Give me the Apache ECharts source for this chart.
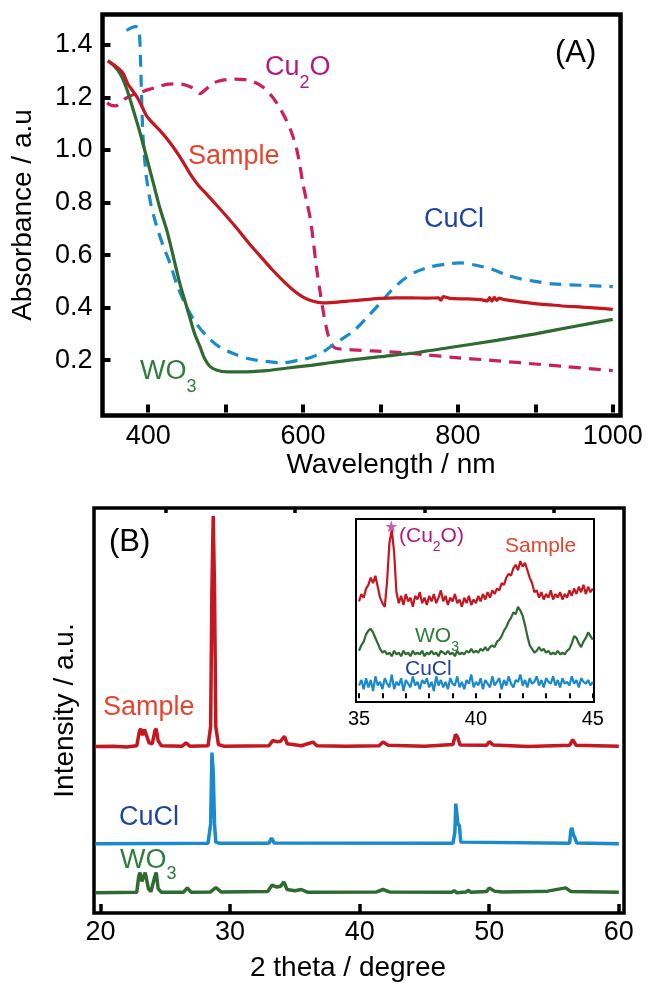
<!DOCTYPE html>
<html><head><meta charset="utf-8">
<script src="https://cdn.jsdelivr.net/npm/echarts@6/dist/echarts.min.js"></script>
<style>html,body{margin:0;padding:0;background:#fff}#c{width:652px;height:985px}</style>
</head><body><div id="c"></div>
<script>
const FONT = '"Liberation Sans", Arial, Helvetica, sans-serif';

// ---------- Panel A : absorbance (wavelength nm, absorbance a.u.) ----------
const absSample = [[348,1.34],[355,1.325],[362,1.31],[368,1.29],[374,1.25],[380,1.225],[386,1.20],[392,1.165],[398,1.13],[405,1.105],[415,1.075],[425,1.04],[435,1.0],[445,0.955],[455,0.905],[465,0.865],[476,0.83],[490,0.785],[502,0.745],[515,0.70],[530,0.645],[545,0.595],[560,0.545],[575,0.50],[590,0.46],[600,0.44],[612,0.425],[625,0.418],[640,0.42],[660,0.425],[680,0.43],[700,0.435],[720,0.437],[740,0.437],[760,0.436],[775,0.437],[778,0.428],[781,0.442],[790,0.435],[810,0.433],[830,0.43],[838,0.425],[841,0.438],[844,0.424],[847,0.439],[850,0.427],[853,0.436],[860,0.43],[880,0.422],[900,0.415],[920,0.41],[940,0.405],[960,0.402],[980,0.398],[1000,0.393]];
const absWO3 = [[348,1.34],[356,1.32],[364,1.29],[372,1.235],[381,1.15],[390,1.06],[399,0.96],[407,0.87],[415,0.78],[424,0.695],[432,0.60],[441,0.49],[448,0.42],[454,0.36],[460,0.30],[467,0.25],[473,0.205],[480,0.175],[490,0.16],[502,0.155],[520,0.155],[553,0.16],[580,0.17],[610,0.18],[635,0.19],[660,0.20],[700,0.213],[750,0.23],[794,0.25],[850,0.275],[900,0.30],[950,0.328],[1000,0.355]];
const absCuCl = [[372,1.455],[378,1.465],[384,1.47],[388,1.46],[390,1.35],[391.5,1.2],[393,1.07],[395,0.98],[398,0.89],[403,0.80],[408,0.74],[413,0.69],[420,0.63],[428,0.57],[438,0.48],[450,0.40],[462,0.34],[476,0.29],[492,0.25],[510,0.225],[530,0.205],[552,0.195],[574,0.19],[595,0.20],[610,0.21],[618,0.22],[628,0.235],[635,0.25],[650,0.28],[665,0.31],[682,0.36],[699,0.415],[714,0.465],[729,0.505],[745,0.535],[764,0.555],[783,0.565],[803,0.57],[825,0.56],[845,0.545],[862,0.525],[880,0.51],[900,0.50],[923,0.49],[960,0.485],[1000,0.48]];
const absCu2O = [[347,1.18],[352,1.17],[358,1.168],[364,1.18],[370,1.195],[380,1.21],[390,1.22],[400,1.23],[412,1.24],[424,1.25],[435,1.252],[445,1.25],[455,1.24],[462,1.225],[467,1.215],[472,1.225],[478,1.24],[484,1.255],[495,1.265],[510,1.27],[525,1.268],[536,1.26],[548,1.24],[561,1.20],[570,1.16],[579,1.11],[586,1.06],[592,1.0],[596,0.94],[600,0.87],[605,0.80],[609,0.745],[613,0.66],[617,0.56],[622,0.46],[627,0.37],[632,0.30],[637,0.26],[642,0.245],[660,0.24],[690,0.235],[729,0.228],[760,0.22],[794,0.21],[840,0.20],[880,0.19],[940,0.175],[1000,0.16]];
const absXTicks = [400,500,600,700,800,900,1000];
const absXLabels = [400,600,800,1000];
const absYTicks = [0.2,0.4,0.6,0.8,1.0,1.2,1.4];

// ---------- Panel B : XRD (2 theta, stacked intensity a.u.) ----------
const xrdSample = [[19.6,41.1],[21,41.2],[22,41.0],[22.8,41.3],[23.0,44.8],[23.1,45.5],[23.25,43.9],[23.4,45.3],[23.55,45.2],[23.75,42.0],[24.0,41.8],[24.2,45.0],[24.3,45.5],[24.45,42.5],[24.7,41.3],[26.3,41.2],[26.6,42.0],[26.9,41.2],[28.3,41.3],[28.5,46],[28.6,80],[28.7,98],[28.8,80],[28.9,46],[29.1,41.6],[29.5,41.2],[33.0,41.3],[33.3,42.6],[33.6,42.3],[33.9,42.4],[34.2,43.6],[34.4,41.8],[35.5,41.3],[36.4,42.2],[36.7,41.3],[39,41.2],[41.5,41.3],[41.8,42.2],[42.2,41.4],[45,41.2],[47.2,41.6],[47.4,44.1],[47.55,43.5],[47.75,41.5],[49.8,41.4],[50.0,42.3],[50.3,41.5],[53,41.1],[56.2,41.4],[56.45,42.8],[56.7,41.4],[60,41.2]];
const xrdCuCl = [[19.6,17.1],[28.3,17.2],[28.5,22],[28.6,39.6],[28.7,35],[28.8,22],[28.9,17.5],[29.2,17.2],[33.0,17.2],[33.2,18.5],[33.4,17.3],[47.2,17.2],[47.35,20],[47.42,27],[47.52,27],[47.58,22],[47.7,21.5],[47.8,17.5],[56.2,17.2],[56.3,20.5],[56.38,21],[56.5,19.3],[56.62,18.5],[56.75,17.3],[60,17.1]];
const xrdWO3 = [[19.6,5],[22.8,5.1],[22.95,9.0],[23.05,10.0],[23.2,7.8],[23.3,7.7],[23.45,10.0],[23.55,9.8],[23.7,6.0],[23.9,5.3],[24.15,8.5],[24.3,10.0],[24.45,6.0],[24.7,5.1],[26.4,5.1],[26.7,6.2],[27.0,5.1],[28.5,5.2],[28.9,6.3],[29.3,5.2],[32.9,5.3],[33.25,6.9],[33.6,6.4],[33.9,6.6],[34.15,7.7],[34.4,5.8],[35.0,5.5],[35.5,5.8],[36.0,5.1],[41.3,5.2],[41.8,5.8],[42.3,5.2],[47.1,5.1],[47.3,5.5],[47.5,5.0],[48.2,5.2],[48.4,5.6],[48.6,5.1],[49.8,5.3],[50.0,6.2],[50.4,5.4],[51,5.2],[53.4,5.3],[54.5,5.4],[55.9,6.2],[56.3,5.3],[60,5.1]];
const xrdMajorTicks = [20,30,40,50,60];
const xrdMinorTicks = [25,35,45,55];

// ---------- Inset : 35-45 degrees, sampled every 0.1 degree ----------
const insetStart = 35.0, insetStep = 0.1;
const insetSample = [53,57,55,60,62,66,63,67,61,55, 52,50,64,85,92,80,58,52,56,51, 57,53,55,50,56,54,58,52,55,51, 56,53,57,52,55,59,53,56,51,55, 53,57,52,54,50,55,52,56,51,54, 52,56,53,57,54,58,55,59,57,60, 59,63,62,66,68,67,71,73,70,75, 72,74,70,66,63,58,59,55,58,54, 57,55,59,54,57,55,58,54,57,55, 59,56,60,57,61,58,62,57,61,58, 60];
const insetWO3 = [26,29,31,35,37,38,36,33,30,27, 25,26,24,25,23,26,24,25,23,26, 24,25,23,26,24,25,24,26,23,25, 24,26,24,25,23,26,25,24,26,24, 25,23,26,24,25,24,26,25,27,25, 26,25,27,26,28,26,28,29,28,31, 32,34,37,39,42,44,47,46,50,48, 45,40,34,29,27,25,26,28,26,27, 25,26,24,25,24,26,24,25,24,26, 27,30,34,33,30,28,31,33,36,34, 32];
const insetCuCl = [7,10,5,11,6,10,4,12,7,9, 5,11,8,6,13,5,9,7,11,4, 10,8,6,12,7,9,5,10,8,11, 6,9,4,12,7,10,6,9,5,11, 8,7,12,6,9,5,10,8,13,6, 9,7,11,5,10,8,6,12,7,9, 11,5,10,7,12,8,6,10,9,13, 7,10,6,11,8,9,12,7,10,6, 11,9,8,12,7,10,6,11,8,9, 7,12,8,10,6,11,9,8,10,7, 9];
const insetTicks = [35,36,37,38,39,40,41,42,43,44,45];
const insetLabels = [35,40,45];
const insetStar = [[36.38, 94]];

const toPairs = arr => arr.map((v, i) => [+(insetStart + i * insetStep).toFixed(2), v]);

const C = {
  sample: '#c4171f', sampleLbl: '#e8432c',
  cucl: '#1a8acd', cuclLbl: '#1f43a0',
  wo3: '#2f6a30', wo3Lbl: '#2e7d3a',
  cu2o: '#cc1f5c', cu2oLbl: '#b4197f'
};

function txt(x, y, text, color, size) {
  return { type: 'text', x, y, z: 100, style: { text, fill: color, font: size + 'px ' + FONT,
    align: 'left', verticalAlign: 'middle', textAlign: 'left', textVerticalAlign: 'middle' } };
}
function subTxt(x, y, pre, sub, post, color, size, subSize, off) {
  const L = 40;
  return { type: 'text', x, y, z: 100, style: {
    text: '{a|' + pre + '}{s|' + sub + '}' + (post ? '{a|' + post + '}' : ''),
    fill: color, font: size + 'px ' + FONT,
    align: 'left', verticalAlign: 'middle', textAlign: 'left', textVerticalAlign: 'middle',
    rich: {
      a: { font: size + 'px ' + FONT, fill: color, lineHeight: L },
      s: { font: subSize + 'px ' + FONT, fill: color, height: L - 2 * off, verticalAlign: 'bottom' }
    } } };
}

const tickLbl = (size) => ({ color: '#000', fontSize: size, fontFamily: FONT });

const option = {
  animation: false,
  backgroundColor: '#fff',
  grid: [
    { left: 102.5, top: 14.5, width: 518, height: 401, show: true, borderColor: '#000', borderWidth: 4.5, backgroundColor: 'transparent' },
    { left: 94, top: 508, width: 530, height: 405, show: true, borderColor: '#000', borderWidth: 3.5, backgroundColor: 'transparent' },
    { left: 356, top: 519, width: 238, height: 183, show: true, borderColor: '#000', borderWidth: 2, backgroundColor: 'transparent' }
  ],
  xAxis: [
    { gridIndex: 0, type: 'value', min: 341, max: 1010, axisLine: { show: false }, splitLine: { show: false },
      axisTick: { inside: true, length: 8, lineStyle: { width: 4, color: '#000' }, customValues: absXTicks },
      axisLabel: Object.assign({ customValues: absXLabels, margin: 8, formatter: v => String(v) }, tickLbl(27)),
      name: 'Wavelength / nm', nameLocation: 'middle', nameGap: 31,
      nameTextStyle: { color: '#000', fontSize: 28, fontFamily: FONT, padding: [0, 0, 0, 59] } },
    { gridIndex: 1, type: 'value', min: 19.5, max: 60.4, axisLine: { show: false }, splitLine: { show: false },
      axisTick: { inside: true, length: 9, lineStyle: { width: 3.5, color: '#000' }, customValues: xrdMajorTicks },
      axisLabel: Object.assign({ customValues: xrdMajorTicks, margin: 6, formatter: v => String(v) }, tickLbl(27)),
      name: '2 theta / degree', nameLocation: 'middle', nameGap: 41,
      nameTextStyle: { color: '#000', fontSize: 28, fontFamily: FONT, padding: [0, 22, 0, 0] } },
    { gridIndex: 1, type: 'value', min: 19.5, max: 60.4, axisLine: { show: false }, splitLine: { show: false },
      axisTick: { inside: true, length: 5, lineStyle: { width: 3.5, color: '#000' }, customValues: xrdMinorTicks },
      axisLabel: { show: false } },
    { gridIndex: 2, type: 'value', min: 34.87, max: 45.05, axisLine: { show: false }, splitLine: { show: false },
      axisTick: { inside: true, length: 5, lineStyle: { width: 2, color: '#000' }, customValues: insetTicks },
      axisLabel: Object.assign({ customValues: insetLabels, margin: 7, formatter: v => String(v) }, tickLbl(20)) }
  ],
  yAxis: [
    { gridIndex: 0, type: 'value', min: -0.011, max: 1.516, axisLine: { show: false }, splitLine: { show: false },
      axisTick: { inside: true, length: 8, lineStyle: { width: 4, color: '#000' }, customValues: absYTicks },
      axisLabel: Object.assign({ customValues: absYTicks, margin: 10, formatter: v => v.toFixed(1) }, tickLbl(27)),
      name: 'Absorbance / a.u', nameLocation: 'middle', nameGap: 65,
      nameTextStyle: { color: '#000', fontSize: 28, fontFamily: FONT } },
    { gridIndex: 1, type: 'value', min: 0, max: 100, axisLine: { show: false }, splitLine: { show: false },
      axisTick: { show: false }, axisLabel: { show: false },
      name: 'Intensity / a.u.', nameLocation: 'middle', nameGap: 15,
      nameTextStyle: { color: '#000', fontSize: 28, fontFamily: FONT } },
    { gridIndex: 2, type: 'value', min: -2, max: 98, axisLine: { show: false }, splitLine: { show: false },
      axisTick: { show: false }, axisLabel: { show: false } }
  ],
  series: [
    { name: 'Cu2O', type: 'line', xAxisIndex: 0, yAxisIndex: 0, data: absCu2O, symbol: 'none', smooth: 0.3,
      lineStyle: { color: C.cu2o, width: 3.2, type: [12, 8] } },
    { name: 'CuCl', type: 'line', xAxisIndex: 0, yAxisIndex: 0, data: absCuCl, symbol: 'none', smooth: 0.3,
      lineStyle: { color: C.cucl, width: 3.2, type: [12, 8] } },
    { name: 'WO3', type: 'line', xAxisIndex: 0, yAxisIndex: 0, data: absWO3, symbol: 'none', smooth: 0.3,
      lineStyle: { color: C.wo3, width: 3.2 } },
    { name: 'Sample', type: 'line', xAxisIndex: 0, yAxisIndex: 0, data: absSample, symbol: 'none', smooth: 0.2,
      lineStyle: { color: C.sample, width: 3.2 } },

    { name: 'Sample XRD', type: 'line', xAxisIndex: 1, yAxisIndex: 1, data: xrdSample, symbol: 'none',
      lineStyle: { color: C.sample, width: 3.5 } },
    { name: 'CuCl XRD', type: 'line', xAxisIndex: 1, yAxisIndex: 1, data: xrdCuCl, symbol: 'none',
      lineStyle: { color: C.cucl, width: 3.5 } },
    { name: 'WO3 XRD', type: 'line', xAxisIndex: 1, yAxisIndex: 1, data: xrdWO3, symbol: 'none',
      lineStyle: { color: C.wo3, width: 3.5 } },

    { name: 'Sample inset', type: 'line', xAxisIndex: 3, yAxisIndex: 2, data: toPairs(insetSample), symbol: 'none',
      lineStyle: { color: C.sample, width: 2.2 } },
    { name: 'WO3 inset', type: 'line', xAxisIndex: 3, yAxisIndex: 2, data: toPairs(insetWO3), symbol: 'none',
      lineStyle: { color: C.wo3, width: 2.2 } },
    { name: 'CuCl inset', type: 'line', xAxisIndex: 3, yAxisIndex: 2, data: toPairs(insetCuCl), symbol: 'none',
      lineStyle: { color: C.cucl, width: 2.2 } },
    { name: 'Cu2O mark', type: 'scatter', xAxisIndex: 3, yAxisIndex: 2, data: insetStar, z: 5,
      symbol: 'path://M50,0 L61,35 L98,35 L68,57 L79,91 L50,70 L21,91 L32,57 L2,35 L39,35 Z',
      symbolSize: 12, itemStyle: { color: '#b4399c' } }
  ],
  graphic: [
    subTxt(265, 68, 'Cu', '2', 'O', C.cu2oLbl, 27, 18, 15),
    txt(188, 157, 'Sample', C.sampleLbl, 27),
    txt(424, 220, 'CuCl', C.cuclLbl, 27),
    subTxt(140, 372, 'WO', '3', '', C.wo3Lbl, 27, 18, 15),
    txt(555, 53, '(A)', '#000', 31),

    txt(109, 542, '(B)', '#000', 31),
    txt(103, 708, 'Sample', C.sampleLbl, 27),
    txt(119, 818, 'CuCl', C.cuclLbl, 27),
    subTxt(120, 861, 'WO', '3', '', C.wo3Lbl, 27, 18, 13),

    subTxt(399, 536, '(Cu', '2', 'O)', C.cu2oLbl, 21, 14, 11),
    txt(505, 546, 'Sample', C.sampleLbl, 21),
    subTxt(415, 636, 'WO', '3', '', C.wo3Lbl, 21, 14, 11),
    txt(405, 669, 'CuCl', C.cuclLbl, 21)
  ]
};

const chart = echarts.init(document.getElementById('c'), null, { renderer: 'canvas', width: 652, height: 985 });
chart.setOption(option);
</script>
</body></html>
